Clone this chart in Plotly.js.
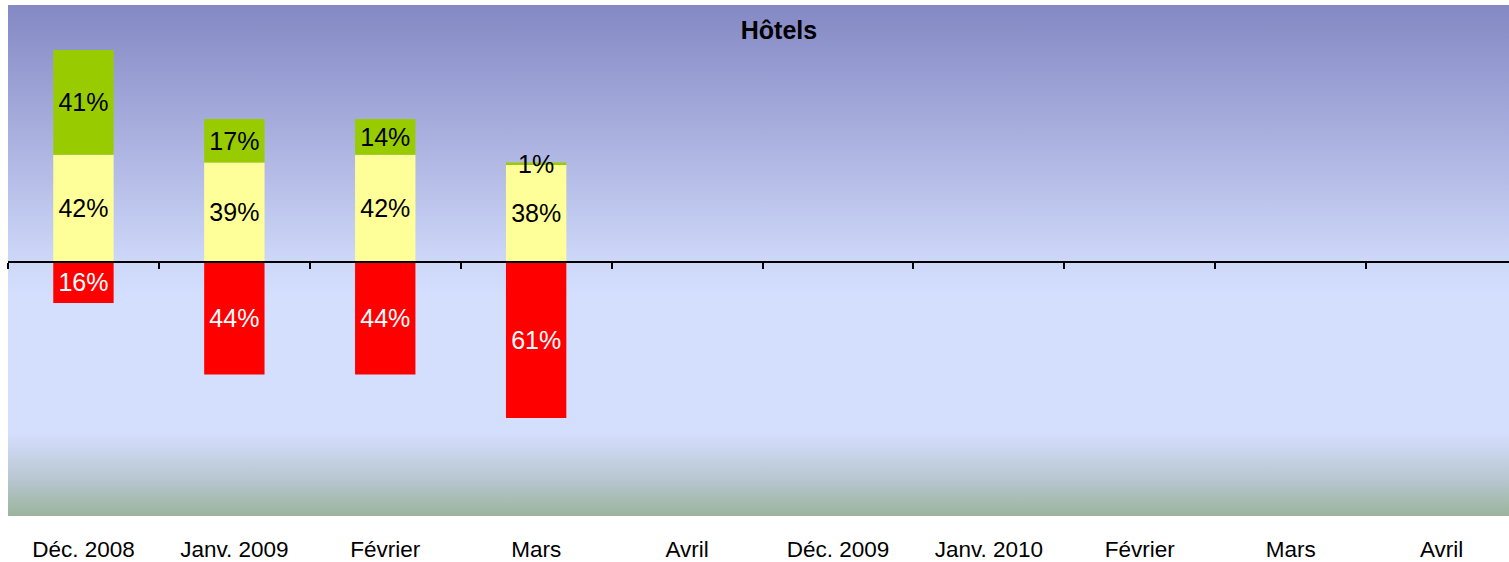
<!DOCTYPE html>
<html>
<head>
<meta charset="utf-8">
<script src="https://cdn.plot.ly/plotly-3.0.1.min.js"></script>
<style>
html,body{margin:0;padding:0;overflow:hidden;background:#fff;}
#chart{width:1525px;height:562px;}
</style>
</head>
<body>
<div id="chart"></div>
<script>
// ---- data ----
const categories = ['Déc. 2008','Janv. 2009','Février','Mars','Avril','Déc. 2009','Janv. 2010','Février','Mars','Avril'];
const hausse = [41, 17, 14, 1, null, null, null, null, null, null];   // green
const stable = [42, 39, 42, 38, null, null, null, null, null, null];  // yellow
const baisse = [16, 44, 44, 61, null, null, null, null, null, null];  // red (drawn below zero)
const subtitle = 'Hôtels';

// ---- build ----
const idx = categories.map((c, i) => i);
const bounds = categories.map((c, i) => i - 0.5).concat([categories.length - 0.5]);
const yRange = [-99.4, 100.6];
const zeroFrac = (0 - yRange[0]) / (yRange[1] - yRange[0]);
const fontFam = 'Liberation Sans, Arial, sans-serif';
const pct = arr => arr.map(v => v == null ? '' : v + '%');
const W = 1525;

const common = {
  type: 'bar', x: idx, textposition: 'inside', insidetextanchor: 'middle',
  constraintext: 'none', hoverinfo: 'skip', showlegend: false, cliponaxis: false
};

const traces = [
  Object.assign({}, common, {
    y: stable, text: pct(stable), marker: {color: '#FFFF99', line: {width: 0}},
    textfont: {family: fontFam, size: 25, color: '#000'}
  }),
  Object.assign({}, common, {
    y: hausse, text: pct(hausse), marker: {color: '#99CC00', line: {width: 0}},
    textfont: {family: fontFam, size: 25, color: '#000'}
  }),
  Object.assign({}, common, {
    y: baisse.map(v => v == null ? null : -v), text: pct(baisse), marker: {color: '#FF0000', line: {width: 0}},
    textfont: {family: fontFam, size: 25, color: '#FFFFFF'}
  }),
  {x: idx, y: idx.map(() => null), xaxis: 'x2', yaxis: 'y', type: 'scatter', mode: 'none',
   hoverinfo: 'skip', showlegend: false}
];

const svg = '<svg xmlns="http://www.w3.org/2000/svg" width="100" height="511" preserveAspectRatio="none">' +
  '<defs><linearGradient id="g" x1="0" y1="0" x2="0" y2="1">' +
  '<stop offset="0" stop-color="#8488C4"/>' +
  '<stop offset="0.50" stop-color="#CDD7F8"/>' +
  '<stop offset="0.57" stop-color="#D4DEFD"/>' +
  '<stop offset="0.84" stop-color="#D4DEFD"/>' +
  '<stop offset="0.93" stop-color="#B7C6CF"/>' +
  '<stop offset="1" stop-color="#9BB49C"/>' +
  '</linearGradient></defs><rect width="100" height="511" fill="url(#g)"/></svg>';
const bgSrc = 'data:image/svg+xml;charset=utf-8,' + encodeURIComponent(svg);

const layout = {
  width: W, height: 562,
  margin: {l: 8, r: 8, t: 5, b: 46, pad: 0},
  paper_bgcolor: '#FFFFFF', plot_bgcolor: 'rgba(0,0,0,0)',
  barmode: 'relative', bargap: 0.6,
  font: {family: fontFam, color: '#000'},
  title: {text: '<b>' + subtitle + '</b>', x: 779 / W, xanchor: 'center', xref: 'container',
          y: 1 - 30 / 562, yanchor: 'middle', yref: 'container',
          font: {family: fontFam, size: 25, color: '#000'}},
  images: [{source: bgSrc, xref: 'paper', yref: 'paper', x: 0, y: 1, sizex: 1, sizey: 1,
            sizing: 'stretch', xanchor: 'left', yanchor: 'top', layer: 'below'}],
  xaxis: {range: [-0.5, categories.length - 0.5], tickmode: 'array', tickvals: idx, ticktext: categories,
          ticks: '', showline: false, showgrid: false, zeroline: false,
          tickfont: {family: fontFam, size: 22.5, color: '#000'}, ticklabelstandoff: 17, fixedrange: true},
  xaxis2: {overlaying: 'x', anchor: 'free', position: zeroFrac, side: 'bottom',
           range: [-0.5, categories.length - 0.5], tickmode: 'array', tickvals: bounds,
           ticks: 'outside', ticklen: 6, tickwidth: 2, tickcolor: '#000',
           showticklabels: false, showline: true, linecolor: '#000', linewidth: 2,
           showgrid: false, zeroline: false, fixedrange: true},
  yaxis: {range: yRange, showticklabels: false, showgrid: false, zeroline: false,
          showline: false, ticks: '', fixedrange: true}
};

Plotly.newPlot('chart', traces, layout, {displayModeBar: false, staticPlot: true});
</script>
</body>
</html>
